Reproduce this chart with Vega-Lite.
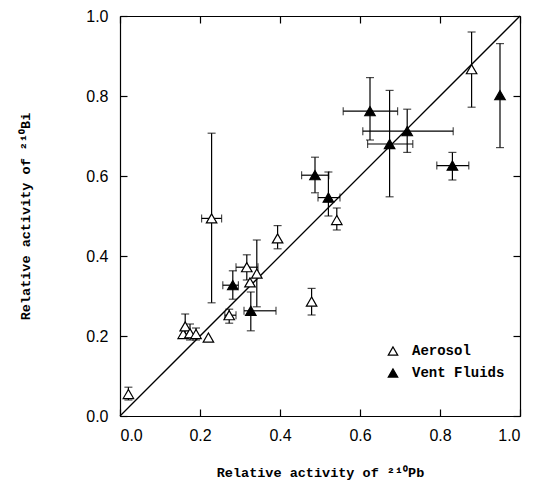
{
  "$schema": "https://vega.github.io/schema/vega-lite/v6.json",
  "width": 400,
  "height": 400,
  "autosize": {"type": "none"},
  "padding": {"left": 120, "top": 16, "right": 18, "bottom": 69},
  "background": "white",
  "config": {
    "view": {"stroke": null},
    "axis": {
      "grid": false,
      "domainColor": "black",
      "domainWidth": 1.2,
      "tickColor": "black",
      "tickWidth": 1.2,
      "labelColor": "black",
      "labelFont": "Liberation Sans",
      "labelFontSize": 16,
      "titleColor": "black",
      "titleFont": "Liberation Mono",
      "titleFontWeight": "bold",
      "titleFontSize": 13.5
    },
    "legend": {
      "labelFont": "Liberation Mono",
      "labelFontSize": 14,
      "labelFontWeight": "bold",
      "labelColor": "black"
    }
  },
  "data": {
    "values": [
      {"type": "Aerosol", "pb": 0.021, "bi": 0.055, "bi_lo": 0.04, "bi_hi": 0.072},
      {"type": "Aerosol", "pb": 0.158, "bi": 0.205},
      {"type": "Aerosol", "pb": 0.163, "bi": 0.224, "bi_lo": 0.205, "bi_hi": 0.255},
      {"type": "Aerosol", "pb": 0.175, "bi": 0.207, "bi_lo": 0.19, "bi_hi": 0.23},
      {"type": "Aerosol", "pb": 0.19, "bi": 0.205, "bi_lo": 0.19, "bi_hi": 0.22},
      {"type": "Aerosol", "pb": 0.221, "bi": 0.196},
      {"type": "Aerosol", "pb": 0.229, "bi": 0.494, "bi_lo": 0.283, "bi_hi": 0.707, "pb_lo": 0.204, "pb_hi": 0.254},
      {"type": "Aerosol", "pb": 0.273, "bi": 0.252, "bi_lo": 0.232, "bi_hi": 0.267, "pb_lo": 0.262, "pb_hi": 0.29},
      {"type": "Aerosol", "pb": 0.317, "bi": 0.372, "bi_lo": 0.34, "bi_hi": 0.403, "pb_lo": 0.29, "pb_hi": 0.345},
      {"type": "Aerosol", "pb": 0.325, "bi": 0.334},
      {"type": "Aerosol", "pb": 0.342, "bi": 0.356, "bi_lo": 0.273, "bi_hi": 0.44},
      {"type": "Aerosol", "pb": 0.394, "bi": 0.444, "bi_lo": 0.418, "bi_hi": 0.476},
      {"type": "Aerosol", "pb": 0.479, "bi": 0.286, "bi_lo": 0.2525, "bi_hi": 0.319},
      {"type": "Aerosol", "pb": 0.542, "bi": 0.49, "bi_lo": 0.465, "bi_hi": 0.52},
      {"type": "Aerosol", "pb": 0.879, "bi": 0.867, "bi_lo": 0.772, "bi_hi": 0.96},
      {"type": "Vent Fluids", "pb": 0.282, "bi": 0.327, "pb_lo": 0.257, "pb_hi": 0.296, "bi_lo": 0.292, "bi_hi": 0.363},
      {"type": "Vent Fluids", "pb": 0.327, "bi": 0.263, "pb_lo": 0.31, "pb_hi": 0.39, "bi_lo": 0.213, "bi_hi": 0.31},
      {"type": "Vent Fluids", "pb": 0.4875, "bi": 0.602, "pb_lo": 0.454, "pb_hi": 0.522, "bi_lo": 0.558, "bi_hi": 0.647},
      {"type": "Vent Fluids", "pb": 0.521, "bi": 0.546, "pb_lo": 0.495, "pb_hi": 0.55, "bi_lo": 0.5, "bi_hi": 0.61},
      {"type": "Vent Fluids", "pb": 0.625, "bi": 0.762, "pb_lo": 0.558, "pb_hi": 0.694, "bi_lo": 0.69, "bi_hi": 0.846},
      {"type": "Vent Fluids", "pb": 0.674, "bi": 0.68, "pb_lo": 0.619, "pb_hi": 0.732, "bi_lo": 0.548, "bi_hi": 0.814},
      {"type": "Vent Fluids", "pb": 0.718, "bi": 0.712, "pb_lo": 0.607, "pb_hi": 0.833, "bi_lo": 0.659, "bi_hi": 0.767},
      {"type": "Vent Fluids", "pb": 0.831, "bi": 0.626, "pb_lo": 0.792, "pb_hi": 0.872, "bi_lo": 0.59, "bi_hi": 0.659},
      {"type": "Vent Fluids", "pb": 0.95, "bi": 0.802, "bi_lo": 0.671, "bi_hi": 0.931}
    ]
  },
  "layer": [
    {
      "data": {"values": [{"pb": 0, "bi": 0}, {"pb": 1, "bi": 1}]},
      "mark": {"type": "line", "color": "black", "strokeWidth": 1.3},
      "encoding": {
        "x": {"field": "pb", "type": "quantitative", "scale": {"domain": [0, 1], "nice": false},
              "axis": {"orient": "bottom", "values": [0, 0.2, 0.4, 0.6, 0.8, 1], "format": ".1f", "tickSize": -7, "labelPadding": 18, "title": "Relative activity of ²¹⁰Pb", "titlePadding": 22}},
        "y": {"field": "bi", "type": "quantitative", "scale": {"domain": [0, 1], "nice": false},
              "axis": {"orient": "left", "values": [0, 0.2, 0.4, 0.6, 0.8, 1], "format": ".1f", "tickSize": -7, "labelPadding": 19, "title": "Relative activity of ²¹⁰Bi", "titlePadding": 53}}
      }
    },
    {
      "transform": [{"filter": "isValid(datum.pb_lo)"}],
      "mark": {"type": "errorbar", "ticks": {"size": 8, "color": "black"}, "color": "black", "thickness": 1.2},
      "encoding": {
        "x": {"field": "pb_lo", "type": "quantitative", "axis": null},
        "x2": {"field": "pb_hi"},
        "y": {"field": "bi", "type": "quantitative", "axis": null}
      }
    },
    {
      "transform": [{"filter": "isValid(datum.bi_lo)"}],
      "mark": {"type": "errorbar", "ticks": {"size": 8, "color": "black"}, "color": "black", "thickness": 1.2},
      "encoding": {
        "y": {"field": "bi_lo", "type": "quantitative", "axis": null},
        "y2": {"field": "bi_hi"},
        "x": {"field": "pb", "type": "quantitative", "axis": null}
      }
    },
    {
      "mark": {"type": "point", "shape": "triangle-up", "filled": true, "size": 110, "stroke": "black", "strokeWidth": 1.2, "opacity": 1},
      "encoding": {
        "x": {"field": "pb", "type": "quantitative",
              "axis": {"orient": "top", "values": [0, 0.2, 0.4, 0.6, 0.8, 1], "tickSize": -7, "labels": false, "title": null}},
        "y": {"field": "bi", "type": "quantitative",
              "axis": {"orient": "right", "values": [0, 0.2, 0.4, 0.6, 0.8, 1], "tickSize": -7, "labels": false, "title": null}},
        "fill": {"field": "type", "type": "nominal",
                 "scale": {"domain": ["Aerosol", "Vent Fluids"], "range": ["white", "black"]},
                 "legend": {"title": null, "orient": "none", "legendX": 266, "legendY": 328, "padding": 0,
                            "symbolType": "triangle-up", "symbolSize": 90, "symbolStrokeColor": "black", "symbolStrokeWidth": 1.2,
                            "labelOffset": 12, "rowPadding": 8}}
      }
    }
  ],
  "resolve": {"axis": {"x": "independent", "y": "independent"}}
}
